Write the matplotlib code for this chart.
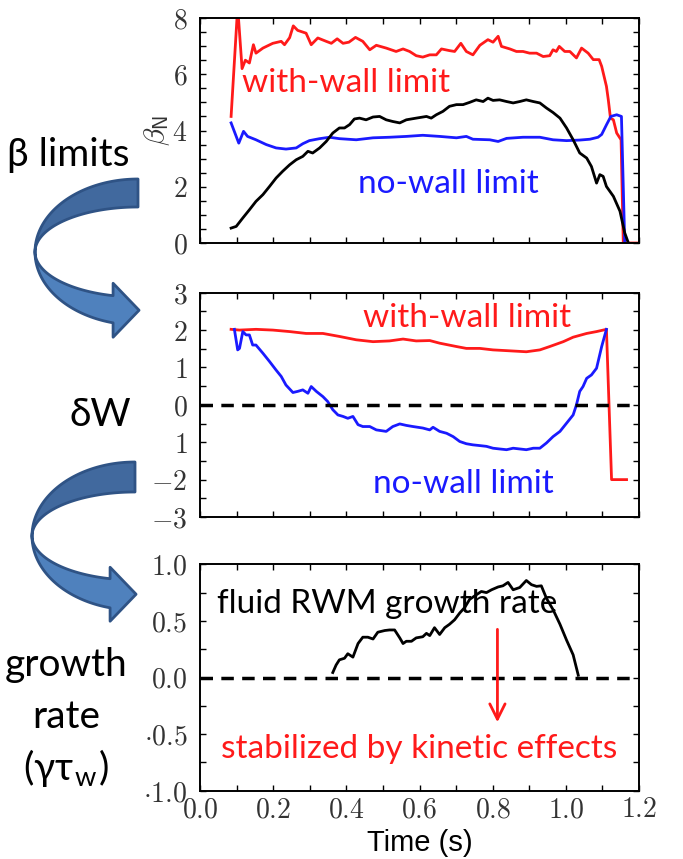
import numpy as np
import matplotlib
matplotlib.use("Agg")
import matplotlib.pyplot as plt
from matplotlib.patches import Polygon

plt.rcParams['mathtext.fontset'] = 'cm'
plt.rcParams['font.family'] = ['Lato', 'Noto Sans', 'DejaVu Sans']

# ---------------- data ----------------
# Top panel: beta_N and limits
t_bw = [0.085,0.103,0.115,0.124,0.135,0.146,0.153,0.172,0.199,0.222,0.231,0.245,0.255,0.267,0.290,0.304,0.322,0.345,0.359,0.375,0.391,0.407,0.425,0.445,0.464,0.482,0.509,0.536,0.555,0.573,0.591,0.609,0.628,0.646,0.660,0.682,0.696,0.713,0.728,0.746,0.765,0.787,0.801,0.815,0.824,0.847,0.865,0.883,0.901,0.920,0.938,0.956,0.965,0.974,0.982,0.997,1.011,1.029,1.043,1.061,1.075,1.091,1.098,1.111,1.116,1.122,1.130,1.139,1.151,1.157,1.198]
beta_wall = [4.5,8.4,6.2,6.5,6.4,7.05,6.75,6.93,7.1,7.17,7.05,7.3,7.72,7.56,7.46,7.05,7.29,7.17,7.1,7.26,7.1,7.14,7.31,7.17,6.87,7.03,6.93,6.81,6.9,6.81,6.66,6.61,6.69,6.69,6.9,6.84,6.81,7.1,6.81,6.69,7.03,7.23,7.14,7.35,6.99,6.9,6.81,6.81,6.75,6.75,6.63,6.66,6.87,6.81,6.99,6.81,6.81,6.58,6.93,6.75,6.52,6.52,6.28,5.57,5.1,4.44,4.38,3.91,3.67,0.0,0.0]

t_bnw = [0.085,0.106,0.119,0.130,0.153,0.181,0.208,0.235,0.263,0.281,0.299,0.327,0.354,0.381,0.427,0.473,0.518,0.564,0.609,0.655,0.701,0.728,0.746,0.792,0.815,0.838,0.883,0.929,0.965,1.002,1.038,1.066,1.088,1.098,1.111,1.123,1.139,1.152,1.161]
beta_nowall = [4.27,3.55,3.97,3.79,3.67,3.5,3.38,3.34,3.38,3.53,3.64,3.71,3.76,3.71,3.67,3.74,3.76,3.79,3.83,3.79,3.74,3.79,3.69,3.67,3.61,3.72,3.76,3.76,3.67,3.64,3.66,3.69,3.76,3.86,4.2,4.5,4.56,4.5,0.0]

t_bn = [0.085,0.099,0.117,0.135,0.153,0.172,0.190,0.208,0.226,0.245,0.263,0.281,0.295,0.308,0.327,0.345,0.363,0.381,0.395,0.409,0.422,0.436,0.454,0.473,0.491,0.509,0.527,0.546,0.564,0.591,0.619,0.632,0.646,0.664,0.682,0.701,0.719,0.737,0.755,0.774,0.787,0.801,0.819,0.838,0.856,0.874,0.892,0.911,0.929,0.947,0.965,0.984,1.002,1.020,1.038,1.057,1.070,1.084,1.093,1.102,1.111,1.130,1.148,1.161,1.171]
beta_n = [0.53,0.59,0.89,1.18,1.48,1.72,2.01,2.31,2.55,2.78,2.96,3.08,3.26,3.2,3.38,3.61,3.91,4.09,4.09,4.21,4.41,4.44,4.38,4.48,4.5,4.38,4.32,4.27,4.38,4.44,4.5,4.44,4.56,4.68,4.86,4.92,4.92,5.0,5.09,5.03,5.15,5.07,5.09,5.03,4.98,5.03,5.09,5.03,4.98,4.8,4.64,4.44,4.09,3.67,3.2,3.02,2.72,2.13,2.43,2.37,2.01,1.66,1.13,0.36,0.0]

# Middle panel: delta W
t_dww = [0.085,0.108,0.153,0.199,0.245,0.290,0.336,0.381,0.427,0.473,0.518,0.555,0.591,0.628,0.655,0.701,0.728,0.765,0.801,0.838,0.892,0.929,0.956,0.993,1.020,1.057,1.084,1.111,1.125,1.166]
dw_wall = [2.02,2.0,2.02,2.0,1.96,1.91,1.91,1.83,1.74,1.69,1.71,1.76,1.71,1.72,1.65,1.56,1.51,1.51,1.47,1.45,1.42,1.47,1.56,1.69,1.81,1.91,1.96,2.02,-2.0,-2.0]

t_dwn = [0.094,0.103,0.108,0.117,0.126,0.135,0.144,0.153,0.172,0.190,0.208,0.222,0.235,0.254,0.267,0.281,0.295,0.304,0.318,0.336,0.349,0.363,0.377,0.391,0.404,0.418,0.432,0.445,0.464,0.482,0.509,0.527,0.546,0.564,0.582,0.609,0.628,0.637,0.655,0.674,0.692,0.710,0.728,0.746,0.765,0.783,0.801,0.819,0.838,0.856,0.874,0.892,0.911,0.929,0.947,0.965,0.984,1.002,1.020,1.029,1.038,1.047,1.057,1.070,1.084,1.098,1.111]
dw_nowall = [2.02,1.47,1.51,1.96,1.87,1.87,1.6,1.6,1.38,1.16,0.93,0.76,0.53,0.33,0.36,0.4,0.31,0.49,0.36,0.22,0.09,-0.13,-0.27,-0.31,-0.36,-0.31,-0.53,-0.58,-0.58,-0.67,-0.71,-0.58,-0.51,-0.55,-0.58,-0.62,-0.67,-0.6,-0.71,-0.76,-0.85,-0.98,-1.04,-1.07,-1.09,-1.11,-1.16,-1.18,-1.2,-1.16,-1.18,-1.2,-1.16,-1.16,-1.02,-0.85,-0.71,-0.49,-0.27,0.0,0.36,0.49,0.71,0.8,0.98,1.56,2.02]

# Bottom panel: growth rate
t_gr = [0.363,0.372,0.381,0.395,0.404,0.418,0.432,0.445,0.459,0.473,0.486,0.505,0.518,0.532,0.546,0.555,0.564,0.578,0.591,0.609,0.619,0.628,0.641,0.655,0.669,0.682,0.696,0.710,0.724,0.737,0.755,0.769,0.783,0.797,0.815,0.828,0.842,0.856,0.874,0.892,0.906,0.920,0.933,0.947,0.965,0.984,1.002,1.020,1.034]
growth = [0.044,0.11,0.156,0.17,0.21,0.18,0.30,0.356,0.356,0.34,0.40,0.415,0.42,0.42,0.35,0.30,0.32,0.32,0.35,0.36,0.39,0.37,0.44,0.38,0.44,0.47,0.51,0.57,0.62,0.69,0.73,0.76,0.75,0.775,0.80,0.81,0.84,0.775,0.795,0.857,0.82,0.805,0.81,0.70,0.60,0.47,0.33,0.20,0.02]

x_ticks = [0.0, 0.2, 0.4, 0.6, 0.8, 1.0, 1.2]
x_ticklabels = ['0.0', '0.2', '0.4', '0.6', '0.8', '1.0', '1.2']
top_yticks = [0, 2, 4, 6, 8]
top_yticklabels = ['0', '2', '4', '6', '8']
mid_yticks = [-3, -2, -1, 0, 1, 2, 3]
mid_yticklabels = ['-3', '-2', '1', '0', '1', '2', '3']
bot_yticks = [-1.0, -0.5, 0.0, 0.5, 1.0]
bot_yticklabels = ['\\cdot1.0', '\\cdot0.5', '0.0', '0.5', '1.0']

RED = '#ff1a1a'
BLUE = '#1a1aff'

# ---------------- figure ----------------
W, H = 683, 859
fig = plt.figure(figsize=(W / 100, H / 100), dpi=100)

bg = fig.add_axes([0, 0, 1, 1], zorder=0)
bg.set_xlim(0, W)
bg.set_ylim(H, 0)
bg.axis('off')


def px_axes(x0, y0, x1, y1):
    return fig.add_axes([x0 / W, 1 - y1 / H, (x1 - x0) / W, (y1 - y0) / H], zorder=2)


ax1 = px_axes(200, 18, 639, 243)
ax2 = px_axes(200, 292.7, 639, 517)
ax3 = px_axes(200, 564.3, 639, 790.7)

TICKFS = 20


def style(ax, yt, ytl, minor_step, show_x):
    ax.set_xlim(0, 1.2)
    ax.set_xticks(x_ticks)
    ax.set_xticks(np.arange(0.1, 1.2, 0.2), minor=True)
    if show_x:
        ax.set_xticklabels(['$%s$' % s for s in x_ticklabels], fontsize=TICKFS, color='#333333')
    else:
        ax.set_xticklabels([])
    ax.set_yticks(yt)
    ax.set_yticklabels(['$%s$' % s for s in ytl], fontsize=TICKFS, color='#333333')
    lo, hi = yt[0], yt[-1]
    ax.set_yticks(np.arange(lo, hi + 1e-9, minor_step), minor=True)
    ax.set_ylim(lo, hi)
    for w in ('major', 'minor'):
        ax.tick_params(which=w, direction='in', top=True, right=True, length=4, width=1)
    ax.tick_params(axis='y', which='both', pad=9)
    ax.tick_params(axis='x', which='both', pad=4)
    for s in ax.spines.values():
        s.set_linewidth(1.4)


style(ax1, top_yticks, top_yticklabels, 0.5, False)
style(ax2, mid_yticks, mid_yticklabels, 0.5, False)
style(ax3, bot_yticks, bot_yticklabels, 0.25, True)

LW = 2.0
ax1.plot(t_bw, beta_wall, color=RED, lw=LW, clip_on=True)
ax1.plot(t_bnw, beta_nowall, color=BLUE, lw=LW)
ax1.plot(t_bn, beta_n, color='black', lw=LW)
ax1.set_ylabel(r'$\beta_{\mathsf{N}}$', fontsize=21, labelpad=0, color='#333333')
ax1.text(0.115, 5.38, 'with-wall limit', color=RED, fontsize=24, ha='left', va='baseline')
ax1.text(0.432, 1.78, 'no-wall limit', color=BLUE, fontsize=24, ha='left', va='baseline')

DASH = (0, (3.6, 2.4))
ax2.plot(t_dww, dw_wall, color=RED, lw=LW)
ax2.plot(t_dwn, dw_nowall, color=BLUE, lw=LW)
ax2.plot([0.0, 1.175], [0, 0], color='black', lw=2.5, ls=DASH)
ax2.text(0.446, 2.08, 'with-wall limit', color=RED, fontsize=24, ha='left', va='baseline')
ax2.text(0.473, -2.35, 'no-wall limit', color=BLUE, fontsize=24, ha='left', va='baseline')

ax3.plot(t_gr, growth, color='black', lw=LW)
ax3.plot([0.0, 1.175], [0, 0], color='black', lw=2.5, ls=DASH)
ax3.text(0.046, 0.57, 'fluid RWM growth rate', color='black', fontsize=24, ha='left', va='baseline', zorder=1)
ax3.text(0.057, -0.71, 'stabilized by kinetic effects', color=RED, fontsize=24, ha='left', va='baseline')
ax3.annotate('', xy=(0.813, -0.42), xytext=(0.813, 0.45),
             arrowprops=dict(arrowstyle='->,head_length=1.1,head_width=0.55', color=RED, lw=2.0))
ax3.set_xlabel('Time (s)', fontsize=21, family=['Liberation Sans'], labelpad=5)

# ---------------- left labels ----------------
LFS = 28
bg.text(68, 155, 'β limits', fontsize=LFS, ha='center', va='center', color='black')
bg.text(100, 415, 'δW', fontsize=LFS, ha='center', va='center', color='black')
bg.text(66, 665, 'growth', fontsize=LFS, ha='center', va='center', color='black')
bg.text(66, 717, 'rate', fontsize=LFS, ha='center', va='center', color='black')
bg.text(66, 768, '(γτ$_\\mathregular{w}$)', fontsize=LFS, ha='center', va='center', color='black')


# ---------------- curved arrows ----------------
def curved_arrow(cx, cy, rx, ry_out, ry_in):
    # upper (dark) part: from top to leftmost point
    th_u = np.radians(np.linspace(90, 180, 60))
    outer_u = np.c_[cx + rx * np.cos(th_u), cy - ry_out * np.sin(th_u)]
    inner_u = np.c_[cx + rx * np.cos(th_u), cy - ry_in * np.sin(th_u)]
    upper = np.vstack([outer_u, inner_u[::-1]])
    # lower (light) part: from leftmost to head base
    th_l = np.radians(np.linspace(180, 256, 60))
    outer_l = np.c_[cx + rx * np.cos(th_l), cy - ry_out * np.sin(th_l)]
    inner_l = np.c_[cx + rx * np.cos(th_l), cy - ry_in * np.sin(th_l)]
    bx = outer_l[-1, 0]
    yo, yi = outer_l[-1, 1], inner_l[-1, 1]
    mid = 0.5 * (yo + yi)
    head = np.array([[bx, yi], [bx, mid - 26], [bx + 26, mid + 1], [bx, mid + 28], [bx, yo]])
    lower = np.vstack([inner_l, head[1:4], outer_l[::-1]])
    bg.add_patch(Polygon(upper, closed=True, facecolor='#41699e', edgecolor='#2f5385', lw=2, joinstyle='round', zorder=1))
    bg.add_patch(Polygon(lower, closed=True, facecolor='#4f81bd', edgecolor='#2f5385', lw=2, joinstyle='round', zorder=1))


curved_arrow(138, 252, 103, 73, 45)
curved_arrow(135, 536, 103, 74, 44)

fig.savefig('out.png', dpi=100)
